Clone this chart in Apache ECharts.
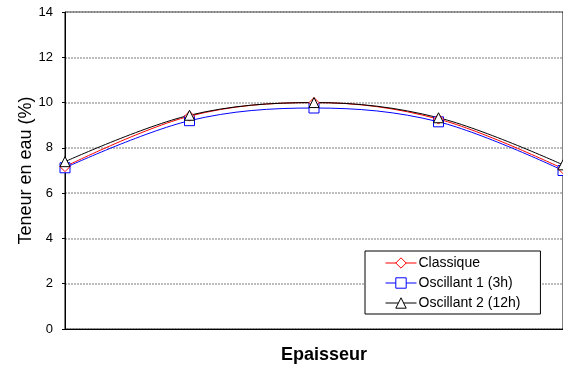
<!DOCTYPE html>
<html><head><meta charset="utf-8">
<script src="https://cdn.jsdelivr.net/npm/echarts@6/dist/echarts.min.js"></script>
<style>html,body{margin:0;padding:0;background:#fff}#c{width:563px;height:369px}</style>
</head><body><div id="c"></div>
<script>
const categories = ['0', '1', '2', '3', '4'];
const classique = [7.17, 9.4, 10.0, 9.27, 7.08];
const oscillant1 = [7.12, 9.2, 9.76, 9.15, 7.0];
const oscillant2 = [7.39, 9.44, 10.0, 9.33, 7.25];
const yTicks = [0, 2, 4, 6, 8, 10, 12, 14];

const font = 'Arial, "Liberation Sans", sans-serif';
function mk(name, data, color, symbol) {
  return {
    name, type: 'line', data, smooth: 0.35,
    symbol, symbolSize: 10,
    lineStyle: { color, width: 1 },
    itemStyle: { color: '#fff', borderColor: color, borderWidth: 1 },
    emphasis: { disabled: true },
    animation: false, z: 3
  };
}
const chart = echarts.init(document.getElementById('c'), null, { renderer: 'canvas' });
chart.setOption({
  animation: false,
  grid: { left: 65, right: -2, top: 12, bottom: 39, show: true, borderColor: '#000', borderWidth: 1 },
  xAxis: {
    type: 'category', data: categories, boundaryGap: false,
    name: 'Epaisseur', nameLocation: 'middle', nameGap: 17, nameMoveOverlap: false,
    nameTextStyle: { fontFamily: font, fontSize: 18, fontWeight: 'bold', color: '#000', padding: [0, 0, 0, 20] },
    axisLine: { lineStyle: { color: '#000' } },
    axisTick: { show: false }, axisLabel: { show: false }, splitLine: { show: false }
  },
  yAxis: {
    type: 'value', min: yTicks[0], max: yTicks[yTicks.length - 1], interval: 2,
    name: 'Teneur en eau (%)', nameLocation: 'middle', nameGap: 30, nameMoveOverlap: false,
    nameTextStyle: { fontFamily: font, fontSize: 18, color: '#000' },
    axisLine: { show: true, lineStyle: { color: '#000' } },
    axisTick: { show: true, length: 3, lineStyle: { color: '#000' } },
    axisLabel: { fontFamily: font, fontSize: 13, color: '#000', margin: 12 },
    splitLine: { lineStyle: { color: '#a8a8a8', width: 1.5, type: [2, 1] } }
  },
  legend: {
    left: 365, top: 251, orient: 'vertical', itemGap: 6,
    padding: [5, 20, 4, 20], itemWidth: 31, itemHeight: 13,
    borderColor: '#000', borderWidth: 1, backgroundColor: '#fff',
    lineStyle: { width: 1 },
    itemStyle: { borderWidth: 1, color: '#fff' },
    textStyle: { fontFamily: font, fontSize: 14, color: '#000', padding: [0, 0, 0, -3] },
    data: ['Classique', 'Oscillant 1 (3h)', 'Oscillant 2 (12h)']
  },
  series: [
    mk('Oscillant 1 (3h)', oscillant1, '#0000ff', 'rect'),
    mk('Classique', classique, '#ff0000', 'diamond'),
    mk('Oscillant 2 (12h)', oscillant2, '#000000', 'triangle')
  ]
});
</script></body></html>
